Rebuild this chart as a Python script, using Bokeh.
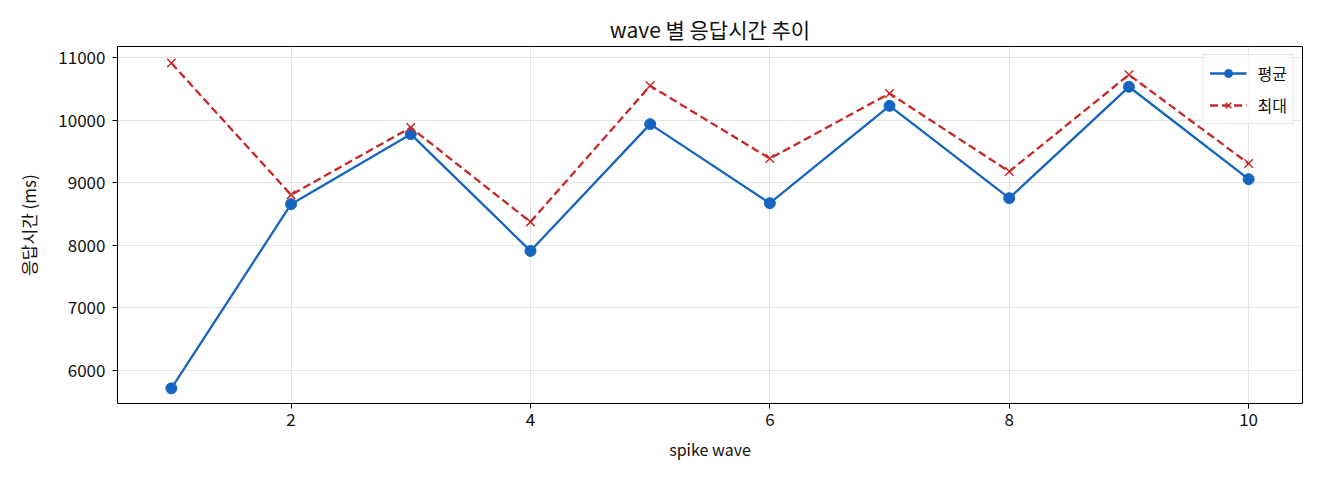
from bokeh.plotting import figure
from bokeh.models import FixedTicker, Range1d
from bokeh.embed import file_html
from bokeh.resources import INLINE

FONT = "Noto Sans CJK KR"

# data
waves = [1, 2, 3, 4, 5, 6, 7, 8, 9, 10]
avg_ms = [5715, 8659, 9779, 7912, 9939, 8675, 10232, 8755, 10536, 9059]
max_ms = [10915, 8808, 9885, 8376, 10552, 9389, 10429, 9181, 10728, 9309]
x_ticks = [2, 4, 6, 8, 10]
y_ticks = [6000, 7000, 8000, 9000, 10000, 11000]

BLUE = "#1565c0"
RED = "#c62828"

p = figure(
    width=1304,
    height=464,
    title="wave 별 응답시간 추이",
    x_range=Range1d(0.55, 10.45),
    y_range=Range1d(5473, 11180),
    output_backend="svg",
    toolbar_location=None,
    tools="",
    min_border_left=117,
    min_border_right=2,
    min_border_top=46,
    min_border_bottom=61,
)

p.title.align = "center"
p.title.text_font = FONT
p.title.text_font_size = "21px"
p.title.text_font_style = "normal"
p.title.text_color = "#111111"
p.title.standoff = 5

p.outline_line_color = "black"
p.outline_line_width = 1

for ax in (p.xaxis, p.yaxis):
    ax.major_label_text_font = FONT
    ax.major_label_text_font_size = "17px"
    ax.major_label_text_color = "#111111"
    ax.axis_label_text_font = FONT
    ax.axis_label_text_font_size = "16px"
    ax.axis_label_text_font_style = "normal"
    ax.axis_label_text_color = "#111111"
    ax.axis_line_color = None
    ax.major_tick_line_color = "black"
    ax.major_tick_out = 5
    ax.major_tick_in = 0
    ax.minor_tick_line_color = None

p.xaxis.axis_label = "spike wave"
p.yaxis.axis_label = "응답시간 (ms)"
p.yaxis.axis_label_text_font_size = "17px"
p.xaxis.ticker = FixedTicker(ticks=x_ticks)
p.yaxis.ticker = FixedTicker(ticks=y_ticks)
p.yaxis.major_label_orientation = "horizontal"
p.xaxis.major_label_standoff = 4
p.yaxis.major_label_standoff = 7
p.xaxis.axis_label_standoff = 8
p.yaxis.axis_label_standoff = 14

p.grid.grid_line_color = "#e3e3e3"
p.xgrid.ticker = FixedTicker(ticks=x_ticks)
p.ygrid.ticker = FixedTicker(ticks=y_ticks)

p.line(waves, avg_ms, line_color=BLUE, line_width=2.3, legend_label="평균")
p.scatter(waves, avg_ms, marker="circle", size=11, fill_color=BLUE,
          line_color=BLUE, legend_label="평균")

p.line(waves, max_ms, line_color=RED, line_width=2.3, line_dash="8 4",
       legend_label="최대")
p.scatter(waves, max_ms, marker="x", size=12, line_color=RED, line_width=1.5,
          legend_label="최대")

p.legend.location = "top_right"
p.legend.label_text_font = FONT
p.legend.label_text_font_size = "16px"
p.legend.label_text_color = "#111111"
p.legend.border_line_color = "#cccccc"
p.legend.border_line_width = 1
p.legend.background_fill_alpha = 0.8
p.legend.margin = 8
p.legend.padding = 6
p.legend.spacing = 8
p.legend.glyph_width = 37
p.legend.glyph_height = 20
p.legend.label_standoff = 11

open("out.html", "w").write(file_html(p, INLINE))
